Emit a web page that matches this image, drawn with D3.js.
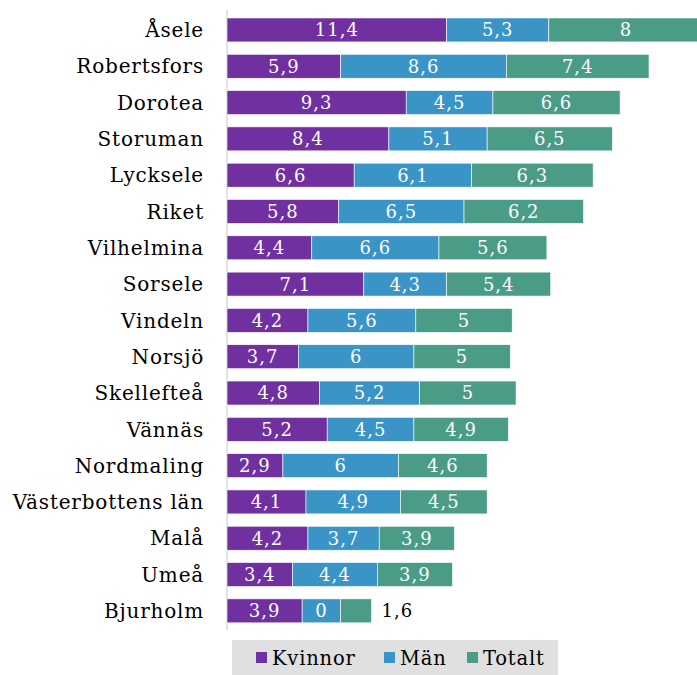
<!DOCTYPE html>
<html><head><meta charset="utf-8">
<script src="https://cdnjs.cloudflare.com/ajax/libs/d3/7.8.5/d3.min.js"></script>
<style>body{margin:0;background:#fff}svg{display:block}</style>
</head><body>
<script>
const categories = ["Åsele","Robertsfors","Dorotea","Storuman","Lycksele","Riket","Vilhelmina","Sorsele","Vindeln","Norsjö","Skellefteå","Vännäs","Nordmaling","Västerbottens län","Malå","Umeå","Bjurholm"];
const kvinnor = [11.4,5.9,9.3,8.4,6.6,5.8,4.4,7.1,4.2,3.7,4.8,5.2,2.9,4.1,4.2,3.4,3.9];
const man = [5.3,8.6,4.5,5.1,6.1,6.5,6.6,4.3,5.6,6,5.2,4.5,6,4.9,3.7,4.4,2.0];
const manLabels = ["5,3","8,6","4,5","5,1","6,1","6,5","6,6","4,3","5,6","6","5,2","4,5","6","4,9","3,7","4,4","0"];
const totalt = [8,7.4,6.6,6.5,6.3,6.2,5.6,5.4,5,5,5,4.9,4.6,4.5,3.9,3.9,1.6];
const seriesNames = ["Kvinnor","Män","Totalt"];
const colors = ["#7030a0","#3a94c6","#4a9c87"];

const W=697,H=675;
const svg=d3.select("body").append("svg").attr("width",W).attr("height",H);
const fmt=v=>String(v).replace(".",",");
const rows=categories.map((c,i)=>({c,vals:[kvinnor[i],man[i],totalt[i]],labels:[fmt(kvinnor[i]),manLabels[i],fmt(totalt[i])]}));

const x=d3.scaleLinear().domain([0,25]).range([227,227+25*19.27]);
const y=d3.scaleBand().domain(categories).range([11.8,629]).paddingInner(0.34).paddingOuter(0.17);

svg.append("line").attr("x1",227).attr("x2",227).attr("y1",10).attr("y2",630).attr("stroke","#d9d9d9").attr("stroke-width",1.5);

const font="'DejaVu Serif', serif";
rows.forEach((r,i)=>{
  let acc=0;
  const g=svg.append("g");
  r.vals.forEach((v,j)=>{
    const x0=x(acc),x1=x(acc+v);
    g.append("rect").attr("x",x0).attr("y",y(r.c)).attr("width",x1-x0).attr("height",y.bandwidth())
      .attr("fill",colors[j]).attr("stroke","#fff").attr("stroke-width",0.6);
    const inside=(x1-x0)>34 || r.labels[j].length<2;
    g.append("text").attr("x",inside?(x0+x1)/2:x1+10).attr("y",y(r.c)+y.bandwidth()/2)
      .attr("dy","0.36em").attr("text-anchor",inside?"middle":"start")
      .attr("fill",inside?"#fff":"#000").style("font-family",font).style("font-size","18px")
      .style("letter-spacing","1px")
      .text(r.labels[j]);
    acc+=v;
  });
  svg.append("text").attr("x",204).attr("y",y(r.c)+y.bandwidth()/2).attr("dy","0.36em")
    .attr("text-anchor","end").style("font-family",font).style("font-size","20px")
    .style("letter-spacing","0.8px").attr("fill","#000").text(r.c);
});

const lg=svg.append("g");
lg.append("rect").attr("x",232).attr("y",640).attr("width",326).attr("height",35).attr("fill","#e0e0e0");
const lx=[256,384,467];
seriesNames.forEach((n,i)=>{
  lg.append("rect").attr("x",lx[i]).attr("y",652).attr("width",11).attr("height",11).attr("fill",colors[i]);
  lg.append("text").attr("x",lx[i]+16).attr("y",658).attr("dy","0.36em").style("font-family",font)
    .style("font-size","19.5px").style("letter-spacing","0.8px").text(n);
});
</script>
</body></html>
